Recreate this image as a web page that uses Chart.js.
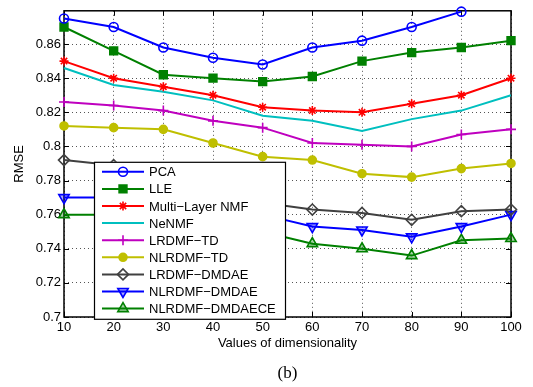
<!DOCTYPE html>
<html>
<head>
<meta charset="utf-8">
<script src="https://cdn.jsdelivr.net/npm/chart.js@4.4.0/dist/chart.umd.min.js"></script>
<style>
  body { margin: 0; background: #fff; }
  #wrap { width: 533px; height: 387px; position: relative; }
</style>
</head>
<body>
<div id="wrap"><canvas id="chart"></canvas></div>
<script>
// x values (dimensionality)
const dims = [10, 20, 30, 40, 50, 60, 70, 80, 90, 100];

// RMSE per method
const pca        = [0.875, 0.870, 0.858, 0.852, 0.848, 0.858, 0.862, 0.870, 0.879, null];
const lle        = [0.870, 0.856, 0.842, 0.840, 0.838, 0.841, 0.850, 0.855, 0.858, 0.862];
const multiNmf   = [0.850, 0.840, 0.835, 0.830, 0.823, 0.821, 0.820, 0.825, 0.830, 0.840];
const nenmf      = [0.846, 0.836, 0.832, 0.827, 0.818, 0.815, 0.809, 0.816, 0.821, 0.830];
const lrdmfTd    = [0.826, 0.824, 0.821, 0.815, 0.811, 0.802, 0.801, 0.800, 0.807, 0.810];
const nlrdmfTd   = [0.812, 0.811, 0.810, 0.802, 0.794, 0.792, 0.784, 0.782, 0.787, 0.790];
const lrdmfDae   = [0.792, 0.789, 0.781, 0.774, 0.767, 0.763, 0.761, 0.757, 0.762, 0.763];
const nlrdmfDae  = [0.770, 0.770, 0.767, 0.763, 0.760, 0.753, 0.751, 0.747, 0.753, 0.760];
const nlrdmfCe   = [0.760, 0.760, 0.757, 0.753, 0.750, 0.743, 0.740, 0.736, 0.745, 0.746];

const yMin = 0.7, yMax = 0.8795, yStep = 0.02;

function series(label, data, color, style, radius, fill, extra) {
  return Object.assign({
    label, data,
    borderColor: color,
    borderWidth: 2,
    pointStyle: style,
    pointRadius: radius,
    pointHoverRadius: radius,
    pointBorderColor: color,
    pointBackgroundColor: fill,
    pointBorderWidth: 1.6,
    tension: 0,
    clip: 8
  }, extra || {});
}

const datasets = [
  series('PCA', pca, '#0000ff', 'circle', 4.5, 'rgba(0,0,0,0)'),
  series('LLE', lle, '#008000', 'rect', 5.5, '#008000'),
  series('Multi\u2212Layer NMF', multiNmf, '#ff0000', 'star', 4.5, '#ff0000'),
  series('NeNMF', nenmf, '#00bfbf', 'circle', 0, '#00bfbf'),
  series('LRDMF\u2212TD', lrdmfTd, '#bf00bf', 'cross', 5, '#bf00bf'),
  series('NLRDMF\u2212TD', nlrdmfTd, '#bfbf00', 'circle', 4, '#bfbf00'),
  series('LRDMF\u2212DMDAE', lrdmfDae, '#404040', 'rectRot', 5.5, 'rgba(0,0,0,0)'),
  series('NLRDMF\u2212DMDAE', nlrdmfDae, '#0000ff', 'triangle', 6, 'rgba(0,0,255,0.35)', { pointRotation: 180 }),
  series('NLRDMF\u2212DMDAECE', nlrdmfCe, '#008000', 'triangle', 6, 'rgba(0,128,0,0.35)')
];

// axes box, inward ticks
const boxPlugin = {
  id: 'box',
  beforeDatasetsDraw(chart) {
    const { ctx, chartArea: a, scales } = chart;
    ctx.save();
    ctx.strokeStyle = '#000';
    ctx.lineWidth = 1.5;
    ctx.strokeRect(a.left, a.top, a.right - a.left, a.bottom - a.top);
    ctx.lineWidth = 1;
    ctx.beginPath();
    scales.x.ticks.forEach(t => {
      const x = Math.round(scales.x.getPixelForValue(t.value)) + 0.5;
      ctx.moveTo(x, a.bottom); ctx.lineTo(x, a.bottom - 5);
      ctx.moveTo(x, a.top); ctx.lineTo(x, a.top + 5);
    });
    scales.y.ticks.forEach(t => {
      const y = Math.round(scales.y.getPixelForValue(t.value)) + 0.5;
      ctx.moveTo(a.left, y); ctx.lineTo(a.left + 5, y);
      ctx.moveTo(a.right, y); ctx.lineTo(a.right - 5, y);
    });
    ctx.stroke();
    ctx.restore();
  }
};

// MATLAB-style legend: line sample with marker
const legendPlugin = {
  id: 'matLegend',
  afterDatasetsDraw(chart) {
    const { ctx, chartArea: a } = chart;
    const left = a.left + 30, top = a.top + 151, w = 191, h = 157;
    ctx.save();
    ctx.fillStyle = '#fff';
    ctx.fillRect(left, top, w, h);
    ctx.strokeStyle = '#000';
    ctx.lineWidth = 1.2;
    ctx.strokeRect(left + 0.5, top + 0.5, w, h);
    ctx.font = '13px "Liberation Sans", Arial, sans-serif';
    ctx.textBaseline = 'middle';
    chart.data.datasets.forEach((ds, i) => {
      const cy = top + 10 + i * 17.1;
      ctx.strokeStyle = ds.borderColor;
      ctx.lineWidth = 2;
      ctx.beginPath();
      ctx.moveTo(left + 8, cy); ctx.lineTo(left + 50, cy);
      ctx.stroke();
      if (ds.pointRadius > 0 && Chart.helpers && Chart.helpers.drawPoint) {
        ctx.fillStyle = ds.pointBackgroundColor;
        ctx.strokeStyle = ds.pointBorderColor;
        ctx.lineWidth = ds.pointBorderWidth;
        Chart.helpers.drawPoint(ctx, {
          pointStyle: ds.pointStyle,
          radius: ds.pointRadius,
          rotation: ds.pointRotation || 0,
          borderWidth: ds.pointBorderWidth
        }, left + 29, cy);
      }
      ctx.fillStyle = '#000';
      ctx.fillText(ds.label, left + 55, cy + 1);
    });
    ctx.restore();
  }
};

// sub-figure caption
const captionPlugin = {
  id: 'caption',
  afterDraw(chart) {
    const { ctx, chartArea: a } = chart;
    ctx.save();
    ctx.fillStyle = '#000';
    ctx.font = '17px "Liberation Serif", "DejaVu Serif", serif';
    ctx.textAlign = 'center';
    ctx.textBaseline = 'middle';
    ctx.fillText('(b)', (a.left + a.right) / 2, 374);
    ctx.restore();
  }
};

const tickFont = { family: '"Liberation Sans", Arial, sans-serif', size: 13 };

new Chart(document.getElementById('chart'), {
  type: 'line',
  data: { labels: dims, datasets },
  plugins: [boxPlugin, legendPlugin, captionPlugin],
  options: {
    responsive: true,
    maintainAspectRatio: false,
    animation: false,
    events: [],
    layout: { padding: { left: 4, right: 22, top: 6, bottom: 0 } },
    plugins: { legend: { display: false }, tooltip: { enabled: false } },
    scales: {
      x: {
        type: 'linear',
        min: 10, max: 100,
        afterFit: s => { s.height = 70; },
        ticks: { stepSize: 10, color: '#000', font: tickFont, padding: 3, maxRotation: 0 },
        grid: { color: '#555', lineWidth: 1, drawTicks: false },
        border: { display: false, dash: [1, 3] },
        title: { display: true, text: 'Values of dimensionality', color: '#000', font: tickFont, padding: { top: 0, bottom: 36 } }
      },
      y: {
        min: yMin, max: yMax,
        afterFit: s => { s.width = 60; },
        afterBuildTicks: s => { s.ticks = s.ticks.filter(t => t.value < 0.87); },
        ticks: {
          stepSize: yStep, color: '#000', font: tickFont, padding: 3,
          callback: v => String(+v.toFixed(2))
        },
        grid: { color: '#555', lineWidth: 1, drawTicks: false },
        border: { display: false, dash: [1, 3] },
        title: { display: true, text: 'RMSE', color: '#000', font: tickFont, padding: { top: 8, bottom: 0 } }
      }
    }
  }
});
</script>
</body>
</html>
